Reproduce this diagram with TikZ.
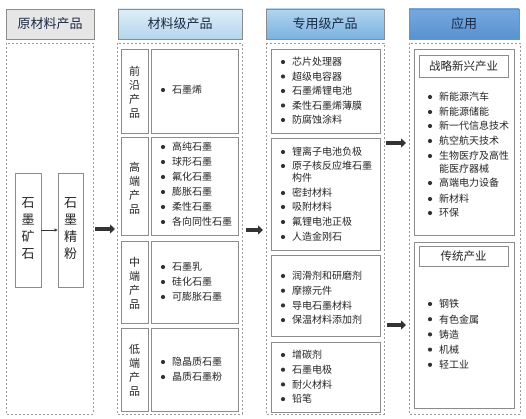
\documentclass[tikz,border=0pt]{standalone}
\usepackage{fontspec}
\setmainfont{Noto Sans CJK SC}
\usetikzlibrary{arrows.meta}
\definecolor{bordc}{HTML}{8C8C8C}
\definecolor{dashc}{HTML}{9A9A9A}
\definecolor{txtc}{HTML}{262626}
\definecolor{headtxt}{HTML}{1B2A45}
\definecolor{arrc}{HTML}{333333}
\tikzset{
  hdr/.style={draw=bordc, line width=0.8pt, font=\fontsize{13}{15}\selectfont, text=headtxt},
  cont/.style={draw=dashc, dashed, dash pattern=on 2pt off 2pt, line width=0.7pt},
  sbox/.style={draw=bordc, line width=0.8pt, fill=white},
  item/.style={font=\fontsize{10}{12}\selectfont, text=txtc, inner sep=0pt, anchor=west},
  vlab/.style={font=\fontsize{11}{14}\selectfont, text=txtc, align=center, inner sep=0pt},
  orelab/.style={font=\fontsize{13}{17}\selectfont, text=txtc, align=center, inner sep=0pt},
  ttl/.style={font=\fontsize{11.5}{13}\selectfont, text=txtc, inner sep=0pt},
  bigarrow/.style={draw=arrc, line width=4.5pt, -{Triangle[length=5pt,width=9pt]}},
  thinarrow/.style={draw=arrc, line width=0.6pt, -{Triangle[length=3pt,width=3pt]}},
}
\newcommand{\bl}[3]{% name, x of bullet, y
  \fill[arrc] ({#2},{#3}) circle (2.1pt);
}
\begin{document}
\begin{tikzpicture}[x=1pt,y=-1pt]
\useasboundingbox (0,0) rectangle (526,419);
\fill[white] (0,0) rectangle (526,419);

% headers
\path[hdr, fill={rgb,255:red,230;green,230;blue,230}] (6,9) rectangle (94,39);
\node[hdr, draw=none] (h1) at (50,24) {原材料产品};
\path[hdr, top color={rgb,255:red,222;green,237;blue,247}, bottom color={rgb,255:red,180;green,214;blue,236}, draw=bordc] (118,9) rectangle (242,39);
\node[hdr, draw=none] (h2) at (180,24) {材料级产品};
\path[hdr, top color={rgb,255:red,178;green,212;blue,238}, bottom color={rgb,255:red,122;green,178;blue,224}, draw=bordc] (266,9) rectangle (384,39);
\node[hdr, draw=none] (h3) at (325,24) {专用级产品};
\path[hdr, top color={rgb,255:red,118;green,168;blue,222}, bottom color={rgb,255:red,88;green,146;blue,210}, draw=bordc] (409,9) rectangle (519,39);
\node[hdr, draw=none] (h4) at (464,24) {应用};

% dashed containers
\draw[cont] (6,43) rectangle (93,414);
\draw[cont] (117,43) rectangle (242,414);
\draw[cont] (266,43) rectangle (384,414);
\draw[cont] (409,43) rectangle (520,414);

% raw materials
\node[sbox, minimum width=26pt, minimum height=114pt, inner sep=0pt] (ore) at (28,230) {};
\node[orelab] (oret) at (28,229) {石\\墨\\矿\\石};
\node[sbox, minimum width=25pt, minimum height=114pt, inner sep=0pt] (pow) at (70.5,230) {};
\node[orelab] (powt) at (70.5,229) {石\\墨\\精\\粉};
\draw[thinarrow] (ore.east |- 0,230) -- (pow.west |- 0,230);

% material level
\draw[sbox] (121,49) rectangle (148,133);
\draw[sbox] (151,49) rectangle (238,133);
\draw[sbox] (121,137) rectangle (148,235);
\draw[sbox] (151,137) rectangle (238,235);
\draw[sbox] (121,241) rectangle (148,323);
\draw[sbox] (151,241) rectangle (238,323);
\draw[sbox] (121,328) rectangle (148,411);
\draw[sbox] (151,328) rectangle (238,411);
\node[vlab] (l1) at (134.5,92) {前\\沿\\产\\品};
\node[vlab] (l2) at (134.5,188) {高\\端\\产\\品};
\node[vlab] (l3) at (134.5,283) {中\\端\\产\\品};
\node[vlab] (l4) at (134.5,370) {低\\端\\产\\品};

\bl{}{163}{90} \node[item] (m11) at (172,90) {石墨烯};
\foreach \t [count=\i] in {高纯石墨,球形石墨,氟化石墨,膨胀石墨,柔性石墨,各向同性石墨}{
  \bl{}{163}{147+(\i-1)*15}
  \node[item] (m2\i) at (172,{147+(\i-1)*15}) {\t};
}
\foreach \t [count=\i] in {石墨乳,硅化石墨,可膨胀石墨}{
  \bl{}{163}{267+(\i-1)*15}
  \node[item] (m3\i) at (172,{267+(\i-1)*15}) {\t};
}
\foreach \t [count=\i] in {隐晶质石墨,晶质石墨粉}{
  \bl{}{163}{362+(\i-1)*15}
  \node[item] (m4\i) at (172,{362+(\i-1)*15}) {\t};
}

% special level
\draw[sbox] (271,49) rectangle (380,133);
\draw[sbox] (271,138) rectangle (380,250);
\draw[sbox] (271,255) rectangle (380,336);
\draw[sbox] (271,342) rectangle (380,412);
\foreach \t [count=\i] in {芯片处理器,超级电容器,石墨烯锂电池,柔性石墨烯薄膜,防腐蚀涂料}{
  \bl{}{283}{62+(\i-1)*14.5}
  \node[item] (s1\i) at (292,{62+(\i-1)*14.5}) {\t};
}
\bl{}{283}{152} \node[item] (s21) at (292,152) {锂离子电池负极};
\bl{}{283}{166} \node[item] (s22) at (292,166) {原子核反应堆石墨};
\node[item] (s22b) at (292,178) {构件};
\bl{}{283}{193} \node[item] (s23) at (292,193) {密封材料};
\bl{}{283}{207} \node[item] (s24) at (292,207) {吸附材料};
\bl{}{283}{222} \node[item] (s25) at (292,222) {氟锂电池正极};
\bl{}{283}{237} \node[item] (s26) at (292,237) {人造金刚石};
\foreach \t [count=\i] in {润滑剂和研磨剂,摩擦元件,导电石墨材料,保温材料添加剂}{
  \bl{}{283}{276+(\i-1)*14.7}
  \node[item] (s3\i) at (292,{276+(\i-1)*14.7}) {\t};
}
\foreach \t [count=\i] in {增碳剂,石墨电极,耐火材料,铅笔}{
  \bl{}{283}{355+(\i-1)*14.7}
  \node[item] (s4\i) at (292,{355+(\i-1)*14.7}) {\t};
}

% applications
\draw[sbox] (414,49) rectangle (514,235);
\draw[sbox] (419,55) rectangle (508,77);
\node[ttl] (a1t) at (463.5,66) {战略新兴产业};
\draw[sbox] (414,242) rectangle (514,408);
\draw[sbox] (419,246) rectangle (508,266);
\node[ttl] (a2t) at (463.5,256) {传统产业};
\foreach \t/\y [count=\i] in {新能源汽车/97,新能源储能/112,新一代信息技术/126,航空航天技术/141,生物医疗及高性/156,高端电力设备/183,新材料/199,环保/213}{
  \bl{}{430}{\y}
  \node[item] (a1\i) at (439,\y) {\t};
}
\node[item] (a15b) at (439,169) {能医疗器械};
\foreach \t [count=\i] in {钢铁,有色金属,铸造,机械,轻工业}{
  \bl{}{430}{304+(\i-1)*15.2}
  \node[item] (a2\i) at (439,{304+(\i-1)*15.2}) {\t};
}

% big arrows
\coordinate (c1e) at (95,229);
\coordinate (c2w) at (115,229);
\coordinate (c2e) at (246,230);
\coordinate (c3w) at (263,230);
\coordinate (c3ea) at (386,143);
\coordinate (c4wa) at (406,143);
\coordinate (c3eb) at (387,325);
\coordinate (c4wb) at (406,325);
\draw[bigarrow] (c1e) -- (c2w);
\draw[bigarrow] (c2e) -- (c3w);
\draw[bigarrow] (c3ea) -- (c4wa);
\draw[bigarrow] (c3eb) -- (c4wb);
\end{tikzpicture}
\end{document}
